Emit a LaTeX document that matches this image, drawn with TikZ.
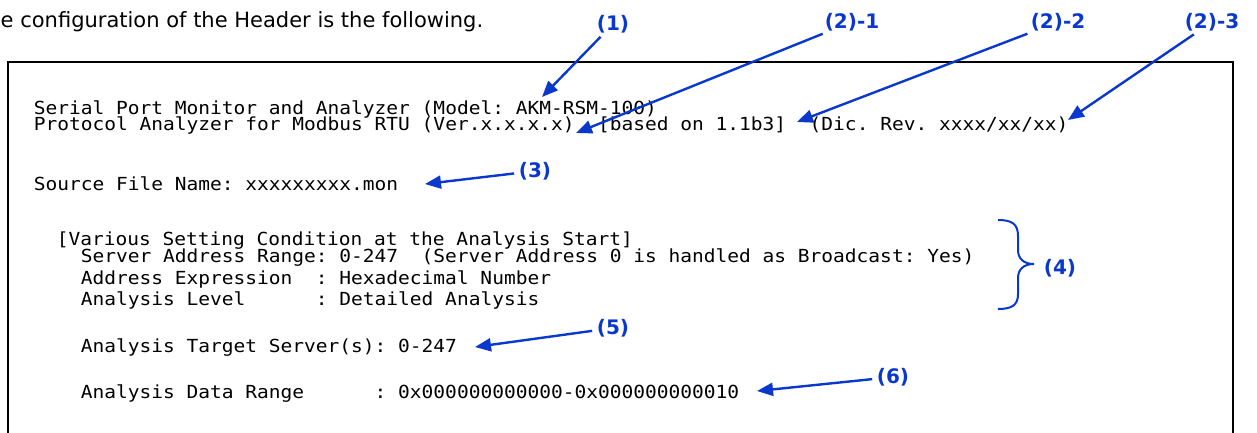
\documentclass[tikz,border=0pt]{standalone}
\usepackage{fontspec}
\setmainfont{DejaVu Sans}
\setmonofont[FakeStretch=1.085]{DejaVu Sans Mono}
\usetikzlibrary{arrows.meta}
\definecolor{callblue}{RGB}{10,56,204}
\begin{document}
\begin{tikzpicture}[x=1pt, y=-1pt, line width=1.5pt,
  mono/.style={anchor=base west, inner sep=0pt, font=\fontsize{18}{19}\ttfamily},
  tag/.style={text=callblue, inner sep=1pt, font=\fontsize{20}{22}\selectfont\bfseries},
  callout/.style={draw=callblue, line width=2.4pt, -{Triangle[length=16pt, width=13pt]}, shorten <=3pt}]
  \useasboundingbox (0,0) rectangle (1257,433);
  \node[anchor=base west, inner sep=0pt, font=\fontsize{21}{24}\selectfont] (intro) at (0,28) {e configuration of the Header is the following.};
  % frame, cut off at the bottom
  \draw (8,433) -- (8,62) -- (1233,62) -- (1233,433);
  % header lines
  \node[mono] (model) at (33,114) {Serial Port Monitor and Analyzer (Model: AKM-RSM-100)};
  \node[mono] (proto) at (33,131) {Protocol Analyzer for Modbus RTU (Ver.x.x.x.x)\ \ [based on 1.1b3]\ \ (Dic. Rev. xxxx/xx/xx)};
  \node[mono] (source) at (33,190) {Source File Name: xxxxxxxxx.mon};
  \node[mono] (various) at (56,245) {[Various Setting Condition at the Analysis Start]};
  \node[mono] (range) at (80,262) {Server Address Range: 0-247\ \ (Server Address 0 is handled as Broadcast: Yes)};
  \node[mono] (express) at (80,284) {Address Expression\ \ : Hexadecimal Number};
  \node[mono] (level) at (80,305) {Analysis Level\ \ \ \ \ \ : Detailed Analysis};
  \node[mono] (target) at (80,352) {Analysis Target Server(s): 0-247};
  \node[mono] (data) at (80,398) {Analysis Data Range\ \ \ \ \ \ : 0x000000000000-0x000000000010};
  % callout labels
  \node[tag] (tag1) at (613,24) {(1)};
  \node[tag] (tag21) at (852,22) {(2)-1};
  \node[tag] (tag22) at (1058,22) {(2)-2};
  \node[tag] (tag23) at (1212,22) {(2)-3};
  \node[tag] (tag3) at (535,171) {(3)};
  \node[tag] (tag4) at (1060,268) {(4)};
  \node[tag] (tag5) at (613,328) {(5)};
  \node[tag] (tag6) at (893,377) {(6)};
  \coordinate (tip1) at (542,97);
  \coordinate (tip21) at (576,133);
  \coordinate (tip22) at (797,122);
  \coordinate (tip23) at (1068,120);
  \coordinate (tip3) at (425,184);
  \coordinate (tip5) at (475,347);
  \coordinate (tip6) at (757,391);
  \draw[callout] (tag1) -- (tip1);
  \draw[callout] (tag21) -- (tip21);
  \draw[callout] (tag22) -- (tip22);
  \draw[callout] (tag23) -- (tip23);
  \draw[callout] (tag3) -- (tip3);
  \draw[callout] (tag5) -- (tip5);
  \draw[callout] (tag6) -- (tip6);
  % brace for the setting block
  \draw[callblue, line width=2pt] (998,220) .. controls (1012,220) and (1018,224) .. (1018,236) -- (1018,250)
    .. controls (1018,259) and (1024,264) .. (1034,264) .. controls (1024,264) and (1018,269) .. (1018,278)
    -- (1018,294) .. controls (1018,305) and (1012,309) .. (998,309);
\end{tikzpicture}
\end{document}
